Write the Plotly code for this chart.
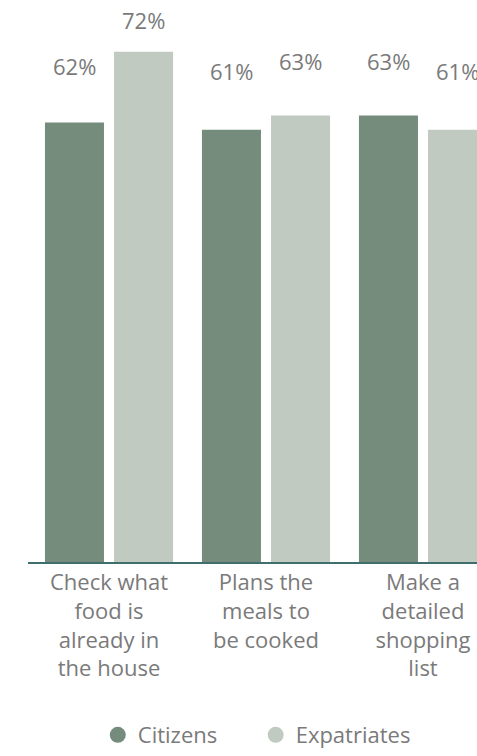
import plotly.graph_objects as go

# Survey data: share of respondents per planning behaviour
categories = [
    "Check what<br>food is<br>already in<br>the house",
    "Plans the<br>meals to<br>be cooked",
    "Make a<br>detailed<br>shopping<br>list",
]
citizens = [62, 61, 63]
expatriates = [72, 63, 61]
series_names = ["Citizens", "Expatriates"]

CIT_COLOR = "#758c7c"
EXP_COLOR = "#c0cac0"
TEXT_COLOR = "#7a7a7a"
FONT = "Open Sans"

x_idx = list(range(len(categories)))
bar_w = 0.376
half_gap = 0.032

fig = go.Figure()
fig.add_trace(go.Bar(
    x=x_idx, y=citizens, width=bar_w, offset=-bar_w - half_gap,
    marker=dict(color=CIT_COLOR, line=dict(width=0)),
    showlegend=False, hoverinfo="skip",
))
fig.add_trace(go.Bar(
    x=x_idx, y=expatriates, width=bar_w, offset=half_gap,
    marker=dict(color=EXP_COLOR, line=dict(width=0)),
    showlegend=False, hoverinfo="skip",
))

# Legend entries drawn as round markers, one small legend box per series
for name, color, leg in zip(series_names, [CIT_COLOR, EXP_COLOR], ["legend", "legend2"]):
    fig.add_trace(go.Scatter(
        x=[None], y=[None], mode="markers", name=name, legend=leg,
        marker=dict(symbol="circle", size=17, color=color),
    ))

# Value labels sit on a compressed scale above the bars
def label_height(v):
    return 29.75 + 0.649 * v

annotations = []
for i in x_idx:
    for vals, off in [(citizens, -0.22), (expatriates, 0.22)]:
        v = vals[i]
        annotations.append(dict(
            x=i + off, y=label_height(v), xref="x", yref="y",
            text=f"{v}%", showarrow=False, yanchor="middle",
            font=dict(family=FONT, size=22, color=TEXT_COLOR),
        ))

legend_style = dict(
    orientation="h", xanchor="left", xref="container",
    y=0, yanchor="bottom", yref="container",
    font=dict(family=FONT, size=22, color=TEXT_COLOR),
    itemsizing="trace", itemwidth=30, bgcolor="rgba(0,0,0,0)",
)

fig.update_layout(
    width=477, height=756,
    margin=dict(l=28, r=0, t=0, b=194),
    paper_bgcolor="white", plot_bgcolor="white",
    barmode="overlay",
    annotations=annotations,
    font=dict(family=FONT, size=22, color=TEXT_COLOR),
    legend=dict(x=0.205, **legend_style),
    legend2=dict(x=0.536, **legend_style),
    xaxis=dict(
        tickmode="array", tickvals=x_idx, ticktext=categories,
        range=[-0.516, 2.344], showgrid=False, zeroline=False,
        showline=True, linecolor="#3f6f6c", linewidth=2,
        ticks="", tickfont=dict(family=FONT, size=22, color=TEXT_COLOR),
    ),
    yaxis=dict(range=[0, 79.3], visible=False, showgrid=False, zeroline=False),
)

fig.write_html("out.html")
